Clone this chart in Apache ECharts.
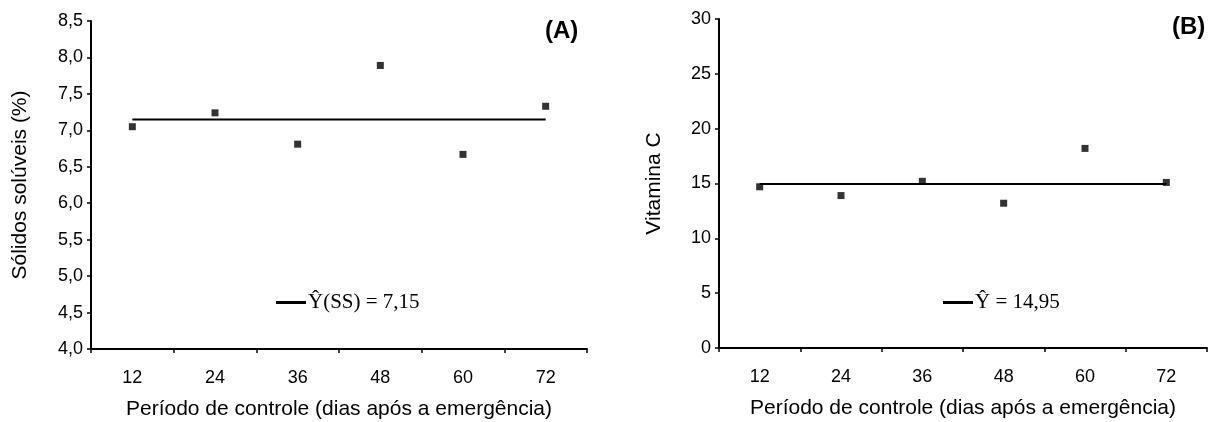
<!DOCTYPE html>
<html>
<head>
<meta charset="utf-8">
<script src="https://cdn.jsdelivr.net/npm/echarts@6/dist/echarts.min.js"></script>
<style>
  html,body{margin:0;padding:0;background:#fff;}
  #chart{width:1210px;height:422px;}
</style>
</head>
<body>
<div id="chart"></div>
<script>
// dias após a emergência
var periods = ['12', '24', '36', '48', '60', '72'];
// (A) sólidos solúveis (%)
var solidos = [7.05, 7.24, 6.81, 7.89, 6.67, 7.33];
var fitSS = 7.15;
// (B) vitamina C
var vitaminaC = [14.7, 13.9, 15.2, 13.2, 18.2, 15.1];
var fitVitC = 14.95;

var sans = 'Liberation Sans';
var serif = 'Liberation Serif';
var nameA = '\u0176(SS) = 7,15';
var nameB = '\u0176 = 14,95';

function xAxisOpt(idx){
  return {
    type: 'category',
    gridIndex: idx,
    data: periods,
    boundaryGap: true,
    name: 'Período de controle (dias após a emergência)',
    nameLocation: 'middle',
    nameGap: 50,
    nameTextStyle: {fontFamily: sans, fontSize: 21, color: '#000'},
    axisLine: {lineStyle: {color: '#000', width: 2}},
    axisTick: {show: true, length: 4, lineStyle: {color: '#000', width: 1.5}},
    axisLabel: {fontFamily: sans, fontSize: 18, color: '#000', margin: 20},
    splitLine: {show: false}
  };
}

function yAxisOpt(idx, min, max, step, title, gap, fmt){
  return {
    type: 'value',
    gridIndex: idx,
    min: min,
    max: max,
    interval: step,
    name: title,
    nameLocation: 'middle',
    nameGap: gap,
    nameTextStyle: {fontFamily: sans, fontSize: 21, color: '#000'},
    axisLine: {show: true, lineStyle: {color: '#000', width: 2}},
    axisTick: {show: true, length: 4, lineStyle: {color: '#000', width: 1.5}},
    axisLabel: {fontFamily: sans, fontSize: 18, color: '#000', margin: 8, formatter: fmt},
    splitLine: {show: false}
  };
}

var chart = echarts.init(document.getElementById('chart'));
chart.setOption({
  animation: false,
  backgroundColor: '#fff',
  title: [
    {text: '(A)', left: 545, top: 19, padding: 0,
     textStyle: {fontFamily: sans, fontSize: 24, fontWeight: 'bold', color: '#000'}},
    {text: '(B)', left: 1172, top: 15, padding: 0,
     textStyle: {fontFamily: sans, fontSize: 24, fontWeight: 'bold', color: '#000'}}
  ],
  grid: [
    {left: 91, top: 21, right: 623, bottom: 73, outerBoundsMode: 'none'},
    {left: 719, top: 19, right: 3, bottom: 74, outerBoundsMode: 'none'}
  ],
  legend: [
    {data: [nameA], left: 276, top: 292, icon: 'rect', itemWidth: 30, itemHeight: 3, itemGap: 0,
     padding: 0, selectedMode: false,
     textStyle: {fontFamily: serif, fontSize: 21, color: '#000', padding: [0, 0, 0, -3]}},
    {data: [nameB], left: 943, top: 292, icon: 'rect', itemWidth: 30, itemHeight: 3, itemGap: 0,
     padding: 0, selectedMode: false,
     textStyle: {fontFamily: serif, fontSize: 21, color: '#000', padding: [0, 0, 0, -3]}}
  ],
  xAxis: [xAxisOpt(0), xAxisOpt(1)],
  yAxis: [
    yAxisOpt(0, 4, 8.5, 0.5, 'Sólidos solúveis (%)', 60, function(v){ return v.toFixed(1).replace('.', ','); }),
    yAxisOpt(1, 0, 30, 5, 'Vitamina C', 54, function(v){ return String(v); })
  ],
  series: [
    {name: 'SS', type: 'scatter', xAxisIndex: 0, yAxisIndex: 0, data: solidos,
     symbol: 'rect', symbolSize: 7, itemStyle: {color: '#000'}, z: 3},
    {name: nameA, type: 'line', xAxisIndex: 0, yAxisIndex: 0,
     data: periods.map(function(){ return fitSS; }),
     showSymbol: false, symbol: 'none', lineStyle: {color: '#000', width: 2}, itemStyle: {color: '#000'}},
    {name: 'VitC', type: 'scatter', xAxisIndex: 1, yAxisIndex: 1, data: vitaminaC,
     symbol: 'rect', symbolSize: 7, itemStyle: {color: '#000'}, z: 3},
    {name: nameB, type: 'line', xAxisIndex: 1, yAxisIndex: 1,
     data: periods.map(function(){ return fitVitC; }),
     showSymbol: false, symbol: 'none', lineStyle: {color: '#000', width: 2}, itemStyle: {color: '#000'}}
  ]
});
</script>
</body>
</html>
